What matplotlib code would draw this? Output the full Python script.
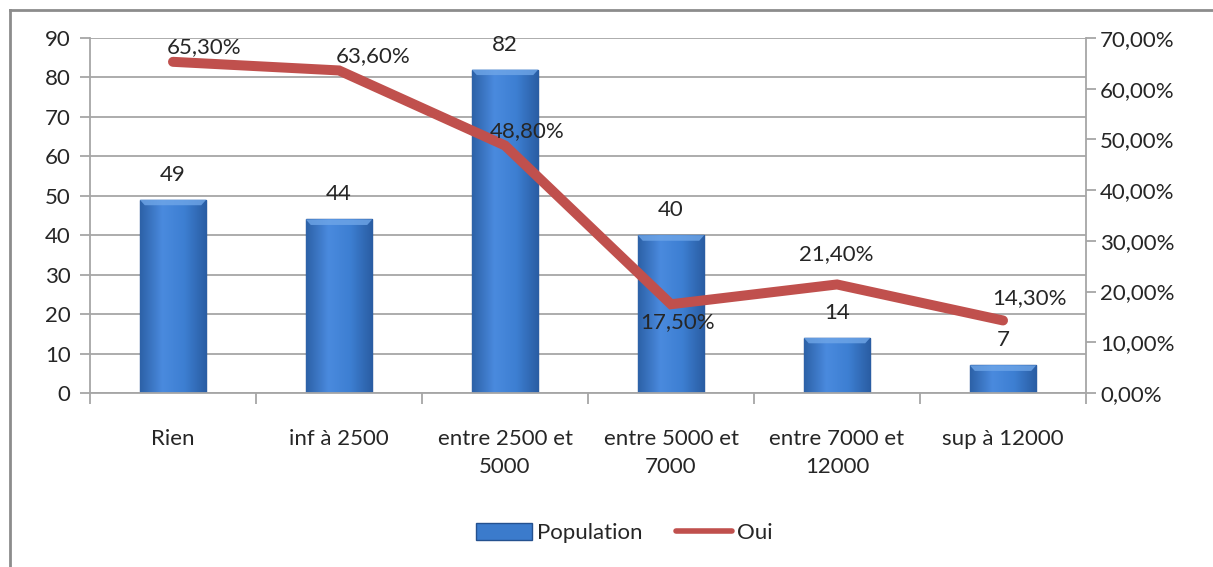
import numpy as np
import matplotlib.pyplot as plt
from matplotlib.lines import Line2D
from matplotlib.patches import Patch
from matplotlib.colors import LinearSegmentedColormap
from matplotlib.transforms import ScaledTranslation

plt.rcParams['font.family'] = ['Lato', 'DejaVu Sans']

categories = ['Rien', 'inf à 2500', 'entre 2500 et\n5000', 'entre 5000 et\n7000',
              'entre 7000 et\n12000', 'sup à 12000']
population = [49, 44, 82, 40, 14, 7]
oui = [65.3, 63.6, 48.8, 17.5, 21.4, 14.3]

# label offsets (pixels) for the percentage labels
oui_offsets = [(31, 15), (34, 14), (22, 14), (7, -18), (-1, 30), (26, 22)]

grid_col = '#a6a6a6'
text_col = '#262626'
red = '#c0504d'
fs = 16

fig = plt.figure(figsize=(12.13, 5.67), dpi=100)
ax = fig.add_axes([0.0742, 0.3069, 0.8211, 0.6261])
ax2 = ax.twinx()

x = np.arange(len(categories))
ax.set_xlim(-0.5, len(categories) - 0.5)
ax.set_ylim(0, 90)
ax.set_yticks(np.arange(0, 91, 10))
ax.yaxis.grid(True, color=grid_col, linewidth=1.3)
ax.set_axisbelow(True)

bars = ax.bar(x, population, width=0.4, color='#3b7bcc', edgecolor='#24518f',
              linewidth=1.0, zorder=2)

# horizontal shading across each bar, plus a light bevel on top
cmap = LinearSegmentedColormap.from_list('bevel', ['#2d62a8', '#4a8ade', '#3d7fd2', '#2a5da3'])
grad = np.linspace(0, 1, 64).reshape(1, -1)
above = ax.transData + ScaledTranslation(0, 0.25, fig.dpi_scale_trans)
for b in bars:
    x0, w, h = b.get_x(), b.get_width(), b.get_height()
    im = ax.imshow(grad, cmap=cmap, extent=[x0, x0 + w, 0, h], aspect='auto',
                   zorder=2.1, interpolation='bicubic')
    im.set_clip_path(b)
    top = min(1.4, h * 0.5)
    ax.fill([x0, x0 + w, x0 + w - 0.03, x0 + 0.03], [h, h, h - top, h - top],
            color='#6fa6e8', alpha=0.8, zorder=2.2, linewidth=0)
    ax.text(x0 + w / 2, h, str(int(h)), ha='center', va='center', fontsize=fs,
            color=text_col, transform=above)
ax.autoscale(False)
ax.set_ylim(0, 90)

ax2.set_ylim(0, 70)
ax2.set_yticks(np.arange(0, 71, 10))
ax2.set_yticklabels(['%d,00%%' % v for v in range(0, 71, 10)])
ax2.plot(x, oui, color=red, linewidth=7.2, solid_capstyle='round',
         solid_joinstyle='miter', zorder=5)
for xi, v, (dx, dy) in zip(x, oui, oui_offsets):
    ax2.annotate(('%.2f%%' % v).replace('.', ','), (xi, v), xytext=(dx * 0.72, dy * 0.72),
                 textcoords='offset points', ha='center', va='center',
                 fontsize=fs, color=text_col, zorder=6)

for a in (ax, ax2):
    for s in a.spines.values():
        s.set_visible(False)
ax.spines['left'].set_visible(True)
ax.spines['bottom'].set_visible(True)
ax2.spines['right'].set_visible(True)
for s in (ax.spines['left'], ax.spines['bottom'], ax2.spines['right']):
    s.set_color(grid_col)
    s.set_linewidth(1.3)

ax.tick_params(axis='y', colors=grid_col, labelcolor=text_col, labelsize=fs,
               length=7, width=1.3, pad=7)
ax2.tick_params(axis='y', colors=grid_col, labelcolor=text_col, labelsize=fs,
                length=7, width=1.3, pad=3)

ax.set_xticks(np.arange(-0.5, len(categories), 1.0))
ax.set_xticklabels([])
ax.set_xticks(x, minor=True)
ax.set_xticklabels(categories, minor=True, fontsize=fs, color=text_col,
                   linespacing=1.5, va='top')
ax.tick_params(axis='x', which='major', colors=grid_col, length=8, width=1.3)
ax.tick_params(axis='x', which='minor', length=0, pad=26)

handles = [Patch(facecolor='#3b7bcc', edgecolor='#24518f'),
           Line2D([0], [0], color=red, linewidth=4, solid_capstyle='round')]
fig.legend(handles, ['Population', 'Oui'], loc='center', bbox_to_anchor=(0.515, 0.06),
           ncol=2, frameon=False, fontsize=fs, handlelength=2.5, handleheight=0.8,
           handletextpad=0.25, columnspacing=1.5, labelcolor=text_col)

# outer chart frame
fig.add_artist(Line2D([10 / 1213, 10 / 1213], [0, 1 - 10 / 567], color='#8c8c8c',
                      linewidth=2, transform=fig.transFigure))
fig.add_artist(Line2D([10 / 1213, 1], [1 - 10 / 567, 1 - 10 / 567], color='#8c8c8c',
                      linewidth=2, transform=fig.transFigure))

fig.savefig('out.png', dpi=100, facecolor='white')
